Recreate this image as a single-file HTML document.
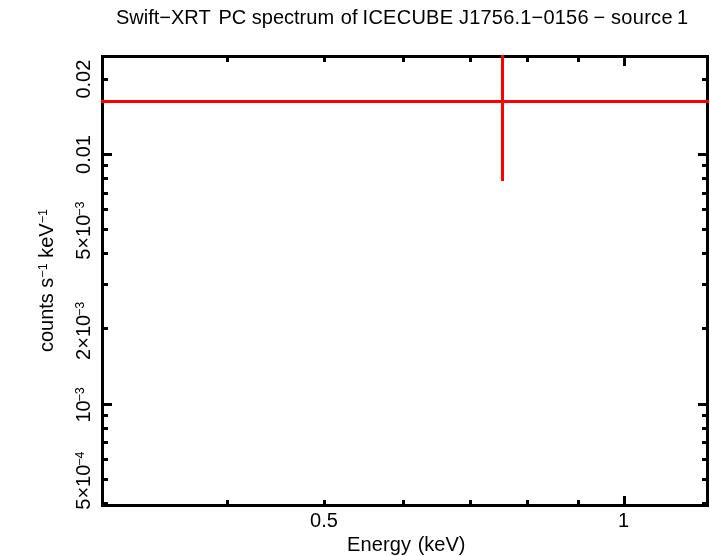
<!DOCTYPE html>
<html><head><meta charset="utf-8"><title>Swift-XRT PC spectrum</title>
<style>
html,body{margin:0;padding:0;background:#fff;}
svg{display:block;}
text{font-family:"Liberation Sans",Arial,Helvetica,sans-serif;font-size:20px;fill:#000;}
.sup{font-size:12.5px;}
</style></head><body>
<svg width="710" height="556" viewBox="0 0 710 556">
<rect x="0" y="0" width="710" height="556" fill="#fff"/>
<g shape-rendering="crispEdges">
<rect x="101" y="55" width="608" height="3" fill="#000"/>
<rect x="101" y="504" width="608" height="3" fill="#000"/>
<rect x="101" y="55" width="3" height="452" fill="#000"/>
<rect x="706" y="55" width="3" height="452" fill="#000"/>
<rect x="101" y="78" width="7" height="3" fill="#000"/>
<rect x="702" y="78" width="7" height="3" fill="#000"/>
<rect x="101" y="164" width="7" height="3" fill="#000"/>
<rect x="702" y="164" width="7" height="3" fill="#000"/>
<rect x="101" y="177" width="7" height="3" fill="#000"/>
<rect x="702" y="177" width="7" height="3" fill="#000"/>
<rect x="101" y="192" width="7" height="3" fill="#000"/>
<rect x="702" y="192" width="7" height="3" fill="#000"/>
<rect x="101" y="208" width="7" height="3" fill="#000"/>
<rect x="702" y="208" width="7" height="3" fill="#000"/>
<rect x="101" y="228" width="7" height="3" fill="#000"/>
<rect x="702" y="228" width="7" height="3" fill="#000"/>
<rect x="101" y="252" width="7" height="3" fill="#000"/>
<rect x="702" y="252" width="7" height="3" fill="#000"/>
<rect x="101" y="283" width="7" height="3" fill="#000"/>
<rect x="702" y="283" width="7" height="3" fill="#000"/>
<rect x="101" y="327" width="7" height="3" fill="#000"/>
<rect x="702" y="327" width="7" height="3" fill="#000"/>
<rect x="101" y="414" width="7" height="3" fill="#000"/>
<rect x="702" y="414" width="7" height="3" fill="#000"/>
<rect x="101" y="427" width="7" height="3" fill="#000"/>
<rect x="702" y="427" width="7" height="3" fill="#000"/>
<rect x="101" y="441" width="7" height="3" fill="#000"/>
<rect x="702" y="441" width="7" height="3" fill="#000"/>
<rect x="101" y="458" width="7" height="3" fill="#000"/>
<rect x="702" y="458" width="7" height="3" fill="#000"/>
<rect x="101" y="478" width="7" height="3" fill="#000"/>
<rect x="702" y="478" width="7" height="3" fill="#000"/>
<rect x="101" y="502" width="7" height="3" fill="#000"/>
<rect x="702" y="502" width="7" height="3" fill="#000"/>
<rect x="101" y="153" width="11" height="3" fill="#000"/>
<rect x="698" y="153" width="11" height="3" fill="#000"/>
<rect x="101" y="403" width="11" height="3" fill="#000"/>
<rect x="698" y="403" width="11" height="3" fill="#000"/>
<rect x="226" y="55" width="3" height="7" fill="#000"/>
<rect x="226" y="500" width="3" height="7" fill="#000"/>
<rect x="323" y="55" width="3" height="7" fill="#000"/>
<rect x="323" y="500" width="3" height="7" fill="#000"/>
<rect x="402" y="55" width="3" height="7" fill="#000"/>
<rect x="402" y="500" width="3" height="7" fill="#000"/>
<rect x="469" y="55" width="3" height="7" fill="#000"/>
<rect x="469" y="500" width="3" height="7" fill="#000"/>
<rect x="526" y="55" width="3" height="7" fill="#000"/>
<rect x="526" y="500" width="3" height="7" fill="#000"/>
<rect x="577" y="55" width="3" height="7" fill="#000"/>
<rect x="577" y="500" width="3" height="7" fill="#000"/>
<rect x="623" y="55" width="3" height="11" fill="#000"/>
<rect x="623" y="496" width="3" height="11" fill="#000"/>
<rect x="101" y="100" width="608" height="3" fill="#f00"/>
<rect x="501" y="55" width="3" height="126" fill="#f00"/>
</g>
<text id="title" y="24"><tspan x="116">Swift−XRT </tspan><tspan x="218.4">PC </tspan><tspan x="251.8">spectrum </tspan><tspan x="340.8">of </tspan><tspan x="362.6" letter-spacing="0.25">ICECUBE </tspan><tspan x="459" letter-spacing="0.2">J1756.1−0156 </tspan><tspan x="593.5">− </tspan><tspan x="611" letter-spacing="0.3">source </tspan><tspan x="677">1</tspan></text>
<text id="xl" y="550.5"><tspan x="347" letter-spacing="0.15">Energy </tspan><tspan x="417.7">(keV)</tspan></text>
<text id="x05" x="324" y="526.6" text-anchor="middle">0.5</text>
<text id="x1" x="623.6" y="526.6" text-anchor="middle">1</text>
<g transform="rotate(-90)">
<text id="y002" x="-79.1" y="89.6" text-anchor="middle">0.02</text>
<text id="y001" x="-154.5" y="89.6" text-anchor="middle">0.01</text>
<text id="y5e3" x="-259.8" y="89.6">5×10<tspan class="sup" dx="-1.2" dy="-6">−3</tspan></text>
<text id="y2e3" x="-359.9" y="89.6">2×10<tspan class="sup" dx="-1.2" dy="-6">−3</tspan></text>
<text id="y1e3" x="-422.6" y="89.6">10<tspan class="sup" dx="-1.2" dy="-6">−3</tspan></text>
<text id="y5e4" x="-509.7" y="89.6">5×10<tspan class="sup" dx="-1.2" dy="-6">−4</tspan></text>
<text id="yl" x="-280.6" y="53" text-anchor="middle">counts s<tspan class="sup" dy="-6">−1</tspan><tspan dy="6"> keV</tspan><tspan class="sup" dy="-6">−1</tspan></text>
</g>
</svg>
</body></html>
